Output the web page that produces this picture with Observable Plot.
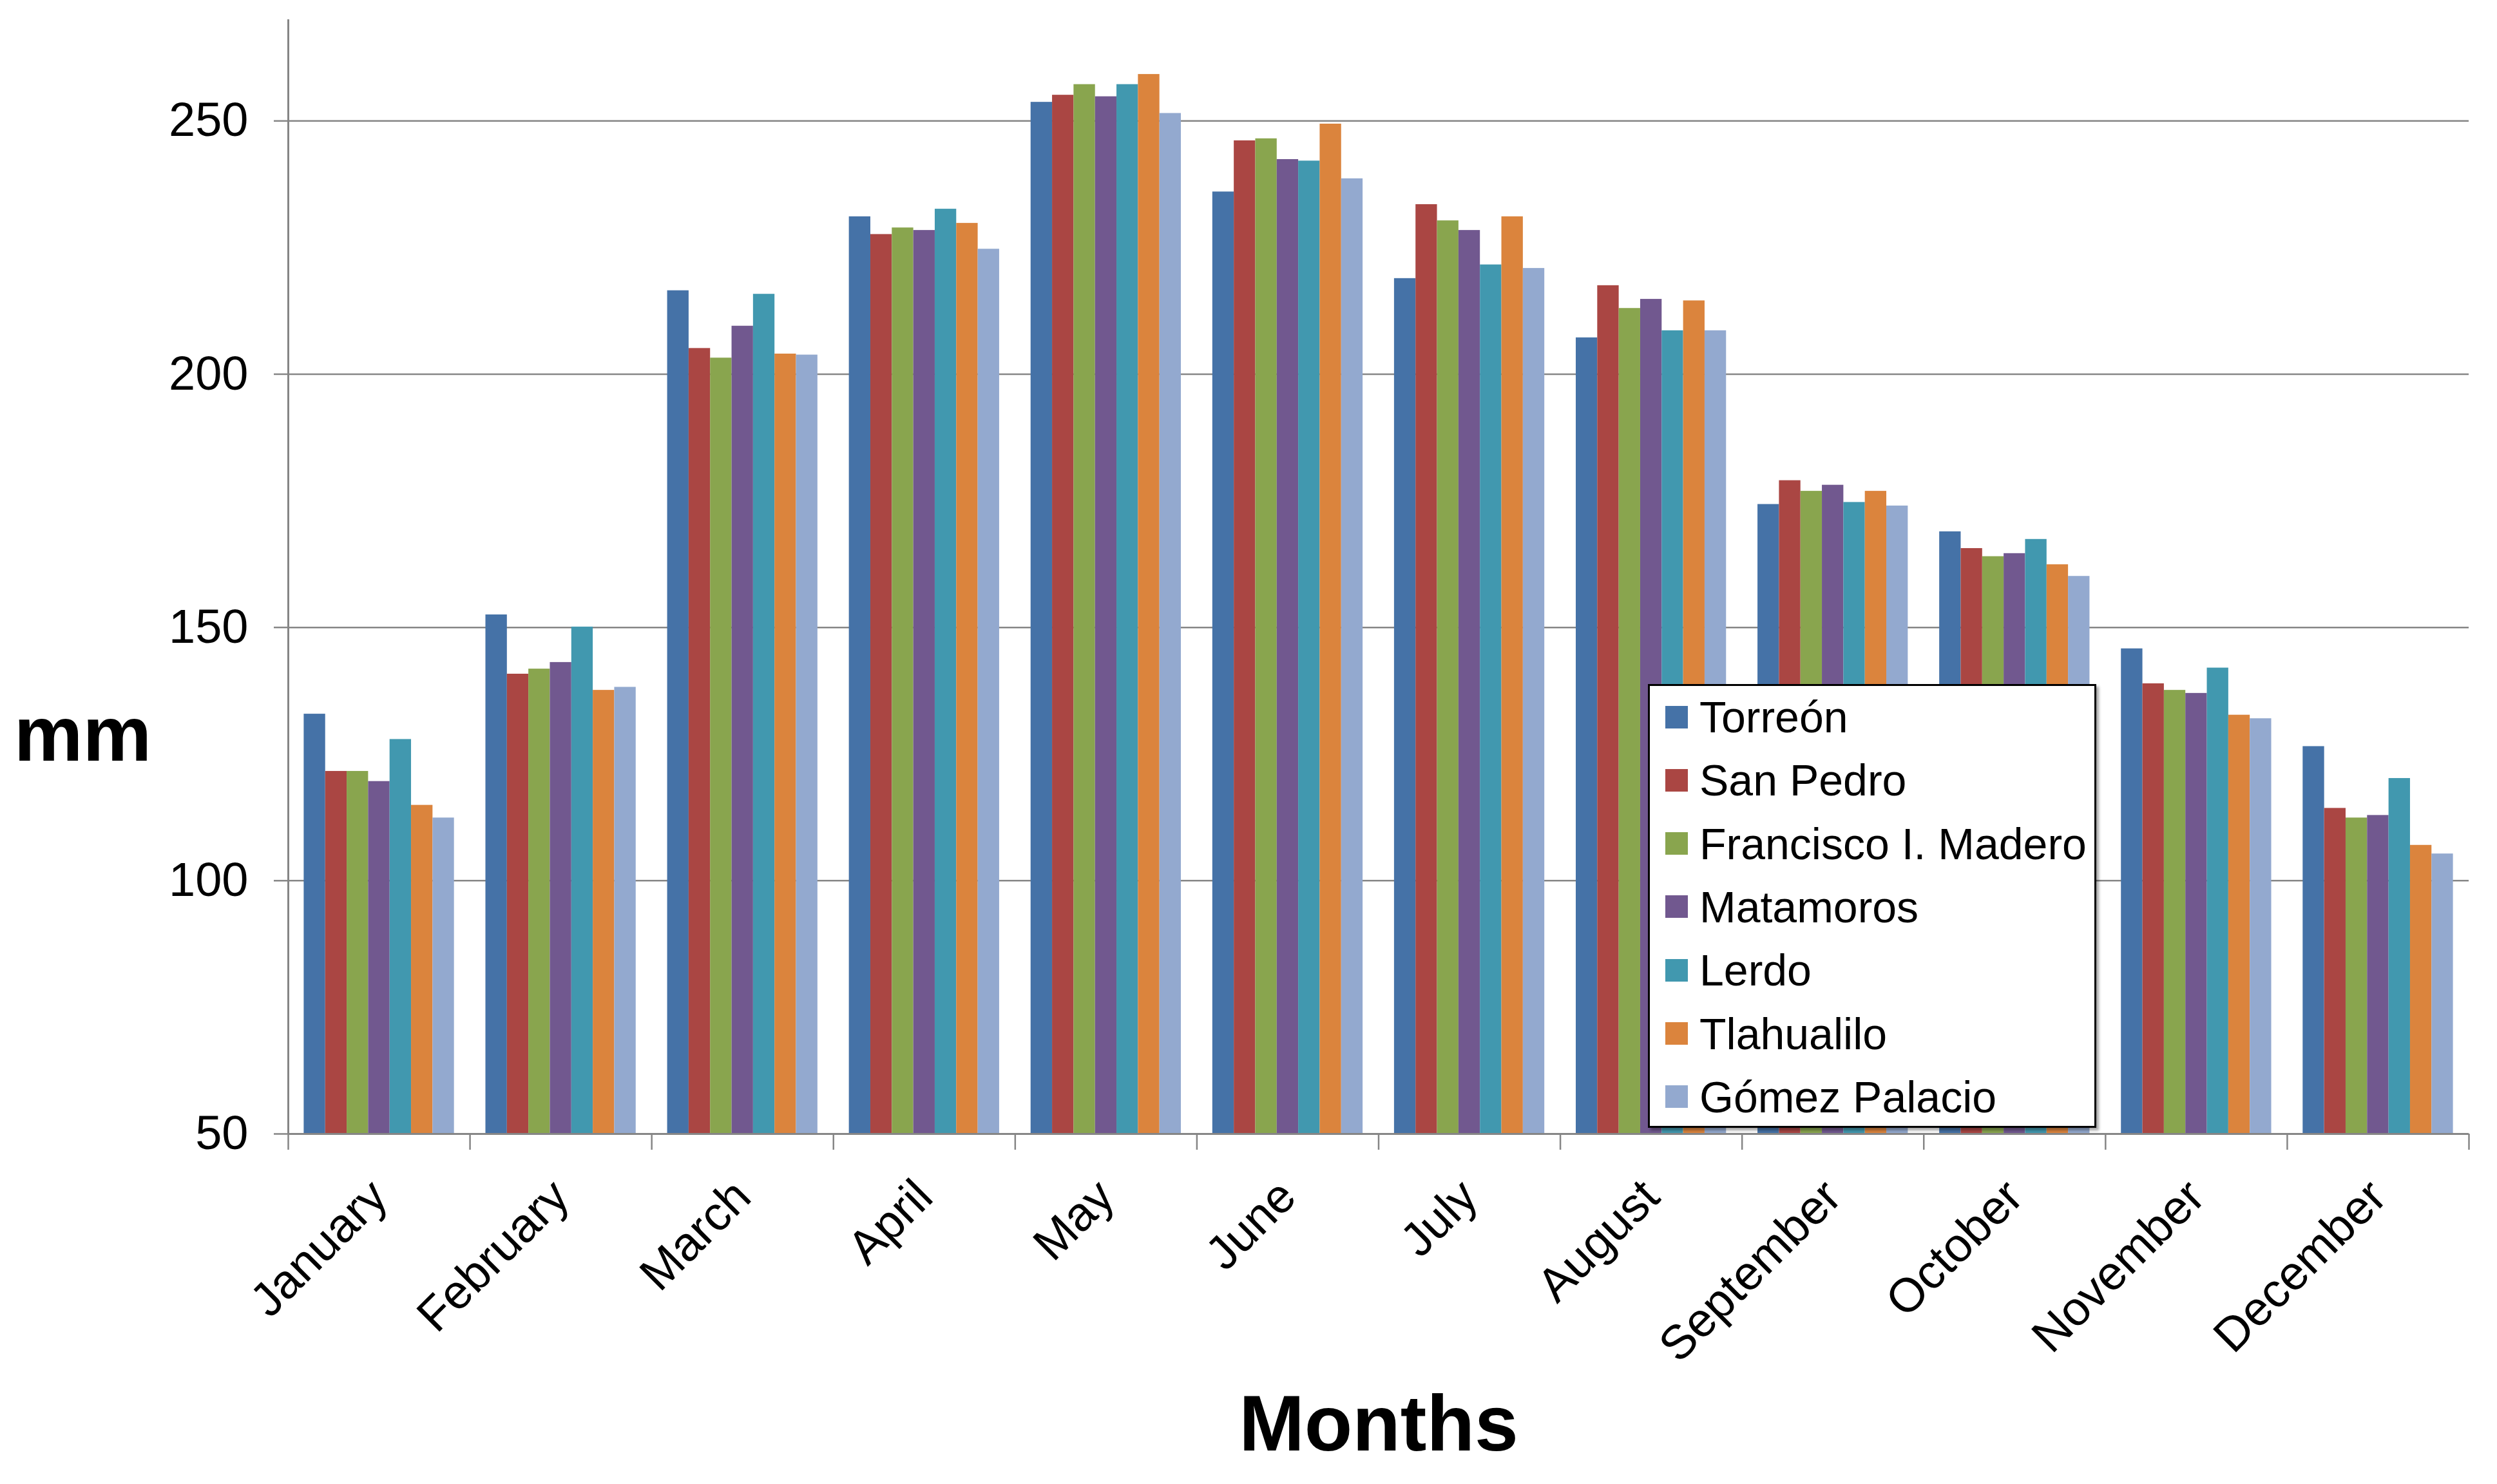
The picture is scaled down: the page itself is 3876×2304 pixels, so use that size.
<!DOCTYPE html>
<html><head><meta charset="utf-8">
<script src="https://cdn.jsdelivr.net/npm/d3@7"></script>
<script src="https://cdn.jsdelivr.net/npm/@observablehq/plot@0.6"></script>
<style>
html,body{margin:0;padding:0;background:#fff;overflow:hidden}
#wrap{position:relative;width:3876px;height:2304px}
#legend{position:absolute;left:2558px;top:1062px;width:696px;height:689px;border:3px solid #000;background:#fff;box-shadow:4px 4px 4px rgba(0,0,0,0.35);font-family:"Liberation Sans",Arial,sans-serif;font-size:68px;box-sizing:border-box;color:#000}
.item{position:absolute;left:24px;height:90px;display:flex;align-items:center;white-space:nowrap}
.sw{width:35px;height:35px;margin-right:18px;flex:none}
</style></head><body><div id="wrap"><div id="chart"></div><div id="legend"></div></div>
<script>
const months = ["January","February","March","April","May","June","July","August","September","October","November","December"];
const stations = ["Torreón","San Pedro","Francisco I. Madero","Matamoros","Lerdo","Tlahualilo","Gómez Palacio"];
const colors = ["#4572A7","#AA4643","#89A54E","#71588F","#4198AF","#DB843D","#93A9CF"];
const yTicks = [50,100,150,200,250];

const torreon    = [132.9,152.5,216.5,231.1,253.7,236.0,218.9,207.2,174.3,168.9,145.8,126.5];
const sanPedro   = [121.6,140.8,205.1,227.6,255.1,246.1,233.5,217.5,179.0,165.6,138.9,114.3];
const madero     = [121.6,141.8,203.2,228.9,257.2,246.5,230.3,213.0,176.9,164.0,137.6,112.4];
const matamoros  = [119.6,143.1,209.5,228.4,254.8,242.4,228.4,214.8,178.1,164.6,137.0,112.9];
const lerdo      = [127.9,150.1,215.8,232.6,257.2,242.1,221.6,208.6,174.7,167.4,142.0,120.2];
const tlahualilo = [114.9,137.6,204.0,229.8,259.2,249.4,231.1,214.5,176.9,162.4,132.7,107.0];
const gomez      = [112.4,138.2,203.8,224.7,251.5,238.6,220.9,208.6,174.0,160.1,132.0,105.3];

const series = [torreon, sanPedro, madero, matamoros, lerdo, tlahualilo, gomez];
const rows = stations.flatMap((s, si) => series[si].map((v, mi) => ({station: s, month: months[mi], mi, si, value: v})));

const GAP = 0.173, BW = (1 - GAP) / stations.length;
const gray = "#868686";

const chart = Plot.plot({
  width: 3876, height: 2304,
  marginLeft: 447, marginRight: 44, marginTop: 30, marginBottom: 544,
  style: {fontFamily: "'Liberation Sans', Arial, sans-serif", fontSize: "74px", background: "#fff", color: "#000"},
  x: {type: "linear", domain: [0, months.length]},
  y: {domain: [50, 270]},
  color: {domain: stations, range: colors},
  marks: [
    Plot.gridY(yTicks.slice(1), {stroke: gray, strokeOpacity: 1, strokeWidth: 2.5}),
    Plot.rect(rows, {
      x1: d => d.mi + GAP / 2 + d.si * BW,
      x2: d => d.mi + GAP / 2 + (d.si + 1) * BW,
      y1: 50, y2: "value", fill: "station"
    }),
    Plot.ruleY([50], {stroke: gray, strokeWidth: 3}),
    Plot.ruleX([0], {stroke: gray, strokeWidth: 3}),
    Plot.axisY({ticks: yTicks, tickSize: 22, tickPadding: 40, stroke: gray, strokeWidth: 2.5, label: null}),
    Plot.axisX({ticks: d3.range(months.length + 1), tickSize: 25, tickFormat: () => "", stroke: gray, strokeWidth: 2.5, label: null}),
    Plot.axisX({ticks: months.map((m, i) => i + 0.5), tickFormat: d => months[Math.floor(d)], tickSize: 0, tickRotate: -45, tickPadding: 85, label: null}),
    Plot.text(["mm"], {frameAnchor: "left", textAnchor: "middle", lineAnchor: "middle", dx: -319, dy: 247, fontSize: 120, fontWeight: "bold", fill: "#000"}),
    Plot.text(["Months"], {frameAnchor: "bottom", textAnchor: "middle", lineAnchor: "middle", dy: 452, fontSize: 122, fontWeight: "bold", fill: "#000"})
  ]
});
document.getElementById("chart").appendChild(chart);

const legend = document.getElementById("legend");
stations.forEach((s, i) => {
  const it = document.createElement("div");
  it.className = "item";
  it.style.top = (3 + i * 98.3) + "px";
  const sw = document.createElement("span");
  sw.className = "sw"; sw.style.background = colors[i];
  const tx = document.createElement("span");
  tx.textContent = s;
  it.appendChild(sw); it.appendChild(tx);
  legend.appendChild(it);
});
</script></body></html>
